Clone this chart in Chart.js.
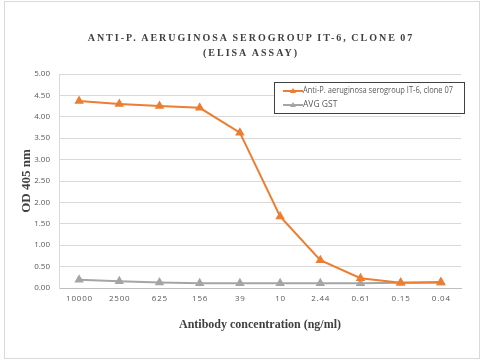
<!DOCTYPE html>
<html>
<head>
<meta charset="utf-8">
<script src="https://cdn.jsdelivr.net/npm/chart.js@4"></script>
<style>
  html, body { margin: 0; padding: 0; background: #fff; }
  #wrap { position: relative; width: 486px; height: 360px; }
</style>
</head>
<body>
<div id="wrap"><canvas id="elisa-chart" width="486" height="360"></canvas></div>
<script>
// chart data
const titleLines = ['ANTI-P. AERUGINOSA SEROGROUP IT-6, CLONE 07', '(ELISA ASSAY)'];
const concentrations = ['10000', '2500', '625', '156', '39', '10', '2.44', '0.61', '0.15', '0.04'];
const antiBodyOD = [4.37, 4.30, 4.25, 4.21, 3.63, 1.67, 0.65, 0.23, 0.12, 0.14];
const avgGstOD = [0.19, 0.16, 0.13, 0.11, 0.11, 0.11, 0.11, 0.11, 0.12, 0.12];
const seriesNames = ['Anti-P. aeruginosa serogroup IT-6, clone 07', 'AVG GST'];

const orange = '#ED7D31';
const gray = '#A5A5A5';

// 枠線とタイトル（文字間隔つき）を描く
const framePlugin = {
    id: 'frame',
    beforeDraw(chart) {
        const ctx = chart.ctx;
        ctx.save();
        ctx.fillStyle = '#fff';
        ctx.fillRect(0, 0, chart.width, chart.height);
        ctx.strokeStyle = '#d9d9d9';
        ctx.lineWidth = 1;
        ctx.strokeRect(4.5, 1.5, 475, 357);
        ctx.restore();
    },
    afterDraw(chart) {
        const ctx = chart.ctx;
        ctx.save();
        ctx.font = 'bold 10px "Liberation Serif"';
        ctx.fillStyle = '#404040';
        ctx.textAlign = 'center';
        ctx.textBaseline = 'middle';
        ctx.letterSpacing = '2px';
        ctx.wordSpacing = '-1px';
        ctx.fillText(titleLines[0], 251, 38);
        ctx.fillText(titleLines[1], 251, 53);
        ctx.restore();
    }
};

// 凡例を枠付きでプロット内に描く
const boxLegendPlugin = {
    id: 'boxLegend',
    afterDatasetsDraw(chart) {
        const ctx = chart.ctx;
        const area = chart.chartArea;
        const x = area.right - 187, y = area.top + 8, w = 190, h = 31;
        ctx.save();
        ctx.fillStyle = '#fff';
        ctx.fillRect(x, y, w, h);
        ctx.strokeStyle = '#404040';
        ctx.lineWidth = 1;
        ctx.strokeRect(x + 0.5, y + 0.5, w, h);
        chart.data.datasets.forEach((ds, i) => {
            const cy = y + 9 + i * 14;
            ctx.strokeStyle = ds.borderColor;
            ctx.lineWidth = 2;
            ctx.beginPath();
            ctx.moveTo(x + 9, cy);
            ctx.lineTo(x + 29, cy);
            ctx.stroke();
            ctx.fillStyle = ds.borderColor;
            ctx.beginPath();
            ctx.moveTo(x + 19, cy - 3);
            ctx.lineTo(x + 22, cy + 2);
            ctx.lineTo(x + 16, cy + 2);
            ctx.closePath();
            ctx.fill();
            ctx.fillStyle = '#595959';
            ctx.font = '8.5px "Open Sans"';
            ctx.textBaseline = 'middle';
            const maxW = i === 0 ? 150 : undefined;
            if (maxW) ctx.fillText(ds.label, x + 29, cy, maxW);
            else ctx.fillText(ds.label, x + 29, cy);
        });
        ctx.restore();
    }
};

new Chart(document.getElementById('elisa-chart'), {
    type: 'line',
    data: {
        labels: concentrations,
        datasets: [{
            label: seriesNames[0],
            data: antiBodyOD,
            borderColor: orange,
            backgroundColor: orange,
            borderWidth: 2,
            pointStyle: 'triangle',
            pointRadius: 3.5,
            tension: 0
        }, {
            label: seriesNames[1],
            data: avgGstOD,
            borderColor: gray,
            backgroundColor: gray,
            borderWidth: 2,
            pointStyle: 'triangle',
            pointRadius: 3.5,
            tension: 0
        }]
    },
    options: {
        responsive: false,
        animation: false,
        layout: { padding: { left: 0, right: 25, top: 74, bottom: 20 } },
        plugins: {
            legend: { display: false },
            title: { display: false },
            tooltip: { enabled: false }
        },
        scales: {
            x: {
                offset: true,
                afterFit: s => { s.height = 52; },
                grid: { display: false, drawTicks: false },
                border: { color: '#bfbfbf' },
                ticks: {
                    color: '#595959',
                    font: { family: '"Open Sans"', size: 8 },
                    padding: 6,
                    maxRotation: 0,
                    callback: function (v) { return this.getLabelForValue(v).split('').join('\u200A'); }
                },
                title: {
                    display: true,
                    text: 'Antibody concentration (ng/ml)',
                    color: '#404040',
                    font: { family: '"Liberation Serif"', size: 12, weight: 'bold' },
                    padding: { top: 0, bottom: 8 }
                }
            },
            y: {
                min: 0,
                max: 5,
                afterFit: s => { s.width = 59; },
                grid: { color: '#d9d9d9', drawTicks: false },
                border: { display: true, color: '#d9d9d9' },
                ticks: {
                    stepSize: 0.5,
                    color: '#595959',
                    font: { family: '"Open Sans"', size: 8 },
                    padding: 9,
                    callback: v => v.toFixed(2)
                },
                title: {
                    display: true,
                    text: 'OD 405 nm',
                    color: '#404040',
                    font: { family: '"Liberation Serif"', size: 13, weight: 'bold' },
                    padding: { top: 19, bottom: 4 }
                }
            }
        }
    },
    plugins: [framePlugin, boxLegendPlugin]
});
</script>
</body>
</html>
